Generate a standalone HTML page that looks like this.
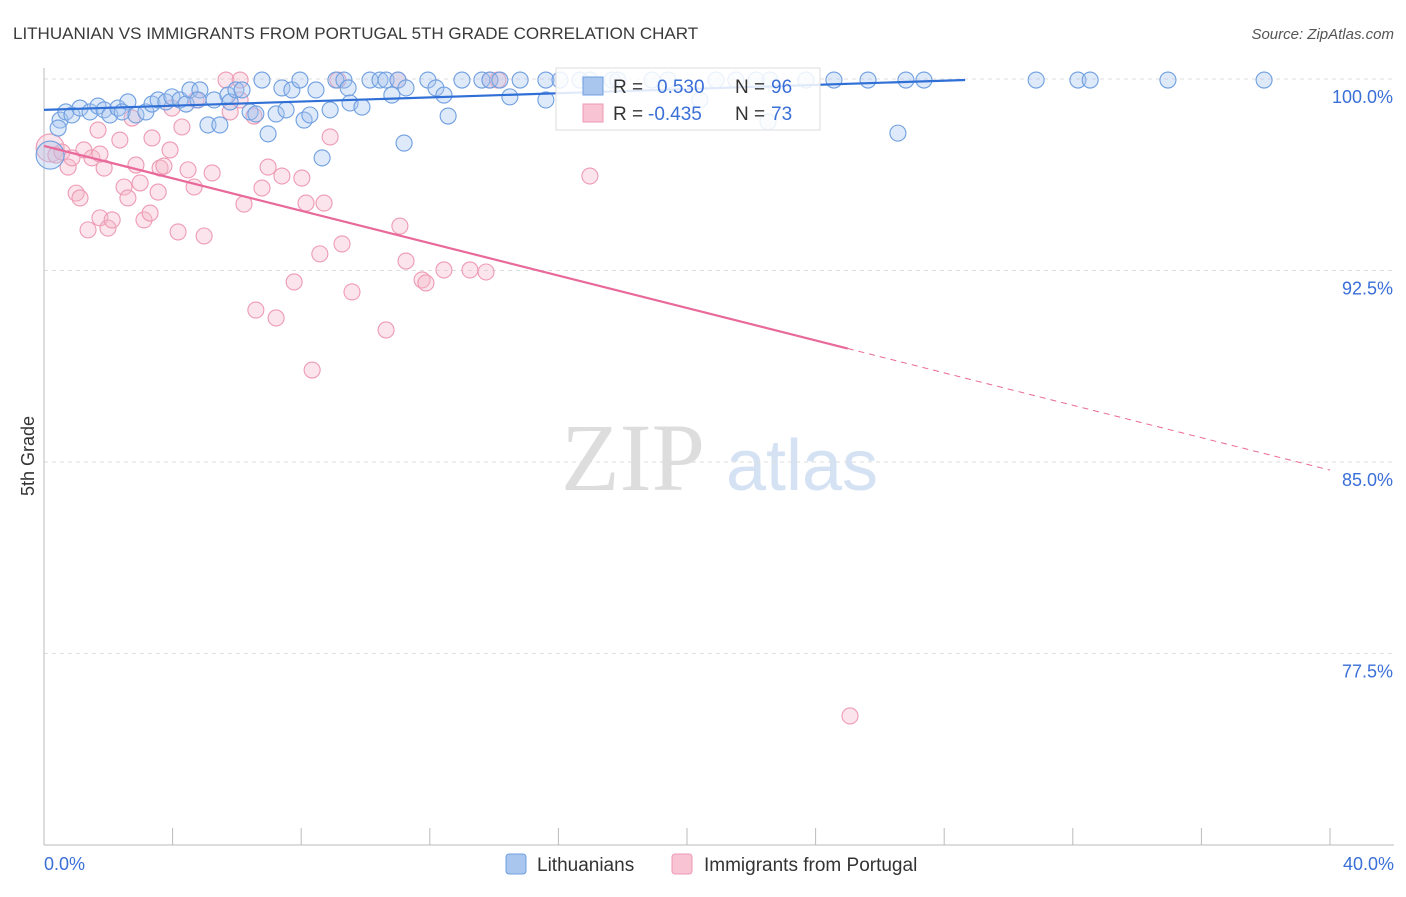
<!DOCTYPE html>
<html><head><meta charset="utf-8"><style>
body{margin:0;background:#fff;font-family:"Liberation Sans",sans-serif;}
</style></head><body>
<svg id="chart" width="1406" height="892" xmlns="http://www.w3.org/2000/svg" font-family="Liberation Sans, sans-serif">
<text x="13" y="39" font-size="17" fill="#3a3a3a">LITHUANIAN VS IMMIGRANTS FROM PORTUGAL 5TH GRADE CORRELATION CHART</text>
<text x="1394" y="39" font-size="15" fill="#555" text-anchor="end" font-style="italic">Source: ZipAtlas.com</text>
<g>
<text x="633" y="490" font-size="96" fill="#ddd" text-anchor="middle" font-family="Liberation Serif, serif">ZIP</text>
<text x="802" y="490" font-size="72" fill="#d4e2f4" text-anchor="middle">atlas</text>
</g>
<g id="grid"></g>
<g id="axes"></g>
<g id="marks"></g>
<g id="trends"></g>
<text transform="translate(34,456) rotate(-90)" font-size="18" fill="#333" text-anchor="middle">5th Grade</text>
<g>
<rect x="556" y="68" width="264" height="62" fill="#fff" fill-opacity="0.85" stroke="#ddd"/>
<rect x="583" y="77" width="20" height="18" fill="#a9c6ee" stroke="#6f9fe0"/>
<text x="613" y="93" font-size="19" fill="#333">R = </text><text x="657" y="93" font-size="19" fill="#3a6fd8">0.530</text>
<text x="735" y="93" font-size="19" fill="#333">N = </text><text x="771" y="93" font-size="19" fill="#3a6fd8">96</text>
<rect x="583" y="104" width="20" height="18" fill="#f8c3d3" stroke="#ee9ab4"/>
<text x="613" y="120" font-size="19" fill="#333">R = </text><text x="648" y="120" font-size="19" fill="#3a6fd8">-0.435</text>
<text x="735" y="120" font-size="19" fill="#333">N = </text><text x="771" y="120" font-size="19" fill="#3a6fd8">73</text>
</g>
<g>
<rect x="506" y="854" width="20" height="20" rx="3" fill="#a9c6ee" stroke="#6f9fe0"/>
<text x="537" y="871" font-size="19" fill="#333">Lithuanians</text>
<rect x="672" y="854" width="20" height="20" rx="3" fill="#f8c3d3" stroke="#ee9ab4"/>
<text x="704" y="871" font-size="19" fill="#333">Immigrants from Portugal</text>
</g>
</svg>
<script>
const xTickLabels=["0.0%","40.0%"];
const yTicks=[100,92.5,85,77.5];
const yTickLabels=["100.0%","92.5%","85.0%","77.5%"];
const blueX=[0.19,0.5,0.44,0.68,0.87,1.12,1.43,1.68,1.87,2.05,2.3,2.61,2.43,2.86,3.17,3.36,3.55,3.79,3.98,4.23,4.42,4.54,4.85,4.79,5.1,5.29,5.47,5.72,5.79,5.97,6.16,6.41,6.59,6.78,6.97,7.22,7.4,7.53,7.71,7.96,8.09,8.27,8.46,8.65,8.9,9.08,9.33,9.46,9.52,9.89,10.14,10.45,10.64,10.82,11.01,11.26,11.2,11.94,12.19,12.44,12.57,13.0,13.62,13.87,14.18,14.49,14.81,15.61,15.61,16.05,16.67,16.98,17.67,17.85,18.91,19.41,20.9,21.52,22.15,22.58,23.7,24.57,25.63,26.56,26.81,27.37,30.86,32.16,32.54,34.96,37.95,22.52,20.4];
const blueY=[97.02,98.39,98.08,98.71,98.59,98.86,98.71,98.94,98.79,98.59,98.86,99.1,98.71,98.59,98.71,99.02,99.18,99.1,99.3,99.18,99.02,99.57,99.57,99.18,98.2,99.18,98.2,99.37,99.1,99.57,99.57,98.71,98.63,99.96,97.85,98.63,99.65,98.79,99.57,99.96,98.39,98.59,99.57,96.91,98.79,99.96,99.96,99.65,99.06,98.9,99.96,99.96,99.96,99.37,99.96,99.65,97.49,99.96,99.65,99.37,98.55,99.96,99.96,99.96,99.96,99.3,99.96,99.96,99.18,99.96,99.96,99.96,99.96,99.96,99.96,99.96,99.96,99.96,99.96,99.96,99.96,99.96,99.96,97.88,99.96,99.96,99.96,99.96,99.96,99.96,99.96,98.32,99.18];
const pinkX=[0.19,0.37,0.56,0.75,0.87,1.0,1.12,1.24,1.37,1.49,1.68,1.74,1.87,1.99,2.12,2.36,2.49,2.61,2.74,2.86,2.99,3.11,3.3,3.36,3.55,3.61,3.73,3.92,3.98,4.17,4.29,4.48,4.67,4.73,4.98,5.23,5.66,6.1,6.22,6.53,6.59,6.78,6.97,7.22,7.4,7.78,8.02,8.15,8.34,8.58,8.71,8.9,9.14,9.27,9.58,10.64,11.01,11.07,11.26,11.76,11.88,12.44,13.25,13.75,13.87,14.12,16.98,25.07,6.1,1.74,5.79];
const pinkY=[97.3,97.02,97.14,96.55,96.91,95.53,95.34,97.22,94.09,96.91,98.0,94.56,96.51,94.16,94.48,97.61,95.77,95.34,98.47,96.63,95.93,94.48,94.75,97.69,95.57,96.51,96.59,97.22,98.86,94.01,98.12,96.44,95.77,99.18,93.85,96.32,99.96,99.96,95.1,98.55,90.95,95.73,96.55,90.64,96.2,92.05,96.12,95.14,88.6,93.15,95.14,97.73,99.96,93.54,91.66,90.17,99.96,94.24,92.87,92.13,92.01,92.52,92.52,92.44,99.96,99.96,96.2,75.05,99.18,97.06,98.71];
const blueTrend=[0,98.79,28.65,99.96];
const pinkTrend=[0,97.38,40,84.68];
const pinkSolidEnd=25.0;

const NS="http://www.w3.org/2000/svg";
const xS=v=>44+v*32.15;
const yS=v=>79+(100-v)*25.53;
function mk(tag,attrs,parent){const e=document.createElementNS(NS,tag);for(const k in attrs)e.setAttribute(k,attrs[k]);parent.appendChild(e);return e;}
const grid=document.getElementById('grid'),axes=document.getElementById('axes'),marks=document.getElementById('marks'),trends=document.getElementById('trends');
yTicks.forEach((t,i)=>{
 const g=mk('line',{x1:44,x2:1394,y1:yS(t),y2:yS(t),stroke:'#ddd','stroke-dasharray':'4,4'},grid);
 
 
 const l=mk('text',{x:1393,y:yS(t)+24,'font-size':18,fill:'#3a6fd8','text-anchor':'end'},axes);
 l.textContent=yTickLabels[i];
 
 
});
const ax=mk('line',{x1:44,x2:1394,y1:845,y2:845,stroke:'#bbb'},axes);


const ay=mk('line',{x1:44,x2:44,y1:68,y2:845,stroke:'#bbb'},axes);


for(let i=0;i<=10;i++){
 const t=mk('line',{x1:xS(i*4),x2:xS(i*4),y1:828,y2:845,stroke:'#bbb'},axes);
 
 
}
const xl0=mk('text',{x:44,y:870,'font-size':18,fill:'#3a6fd8'},axes);xl0.textContent=xTickLabels[0];


const xl1=mk('text',{x:1394,y:870,'font-size':18,fill:'#3a6fd8','text-anchor':'end'},axes);xl1.textContent=xTickLabels[1];


function pts(X,Y,fill,stroke,name){
 X.forEach((x,i)=>{
  const r=(i===0)?14:8;
  const c=mk('circle',{cx:xS(x),cy:yS(Y[i]),r:r,fill:fill,'fill-opacity':0.38,stroke:stroke,'stroke-width':1.1},marks);
  
  
 });
}
pts(pinkX,pinkY,'#f5b8cb','#ee9ab4','point-portugal');
pts(blueX,blueY,'#a9c6ee','#6f9fe0','point-lithuanian');
const bl=mk('line',{x1:xS(blueTrend[0]),y1:yS(blueTrend[1]),x2:xS(blueTrend[2]),y2:yS(blueTrend[3]),stroke:'#2f6fd6','stroke-width':2.2},trends);


const slope=(pinkTrend[3]-pinkTrend[1])/(pinkTrend[2]-pinkTrend[0]);
const pe=pinkTrend[1]+slope*(pinkSolidEnd-pinkTrend[0]);
const pl=mk('line',{x1:xS(pinkTrend[0]),y1:yS(pinkTrend[1]),x2:xS(pinkSolidEnd),y2:yS(pe),stroke:'#e8699a','stroke-width':2.2},trends);


const pd=mk('line',{x1:xS(pinkSolidEnd),y1:yS(pe),x2:xS(pinkTrend[2]),y2:yS(pinkTrend[3]),stroke:'#e8699a','stroke-width':1,'stroke-dasharray':'6,5'},trends);


</script>
</body></html>
